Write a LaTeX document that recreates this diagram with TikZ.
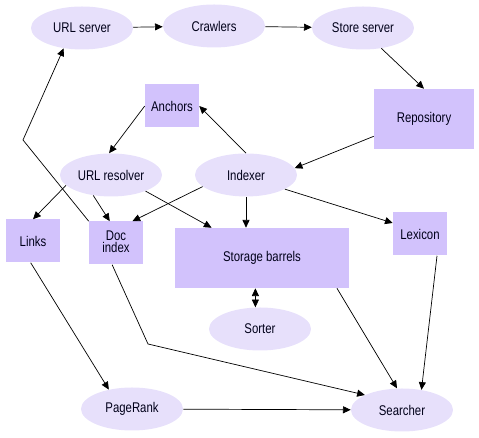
\documentclass[tikz,border=0pt]{standalone}
\usepackage{fontspec}
\newfontfamily\condsf{Liberation Sans}[FakeStretch=0.81]
\usetikzlibrary{shapes.geometric,arrows.meta}
\definecolor{ellfill}{RGB}{231,224,251}
\definecolor{boxfill}{RGB}{210,194,252}

\begin{document}
\begin{tikzpicture}[scale=1, >={Triangle[length=5.5pt,width=5pt]},
  every node/.style={font=\condsf\fontsize{10}{8.6}\selectfont, text=black!90!blue},
  ellnode/.style={ellipse, fill=ellfill, minimum width=2.55cm, minimum height=1.075cm, inner sep=0pt},
  boxnode/.style={rectangle, fill=boxfill, minimum width=1.35cm, minimum height=1.075cm, inner sep=0pt, align=center},
  arr/.style={->, line width=0.5pt}]
  \useasboundingbox (0,0) rectangle (11.975,10.95);

  % Ellipses
  \node[ellnode] (urlserver) at (2.05,10.25) {URL server};
  \node[ellnode] (crawlers) at (5.35,10.3) {Crawlers};
  \node[ellnode] (storeserver) at (9.075,10.25) {Store server};
  \node[ellnode] (urlresolver) at (2.775,6.575) {URL resolver};
  \node[ellnode] (indexer) at (6.15,6.575) {Indexer};
  \node[ellnode] (sorter) at (6.5,2.725) {Sorter};
  \node[ellnode] (pagerank) at (3.3,0.725) {PageRank};
  \node[ellnode] (searcher) at (10.05,0.7) {Searcher};

  % Boxes
  \node[boxnode] (anchors) at (4.3,8.3) {Anchors};
  \node[boxnode, minimum width=2.5cm, minimum height=1.5cm] (repository) at (10.6,7.975) {Repository};
  \node[boxnode] (links) at (0.825,4.925) {Links};
  \node[boxnode] (docindex) at (2.9,4.875) {Doc\\index\vphantom{g}};
  \node[boxnode, minimum width=4.35cm, minimum height=1.5cm] (barrels) at (6.55,4.5) {Storage barrels};
  \node[boxnode] (lexicon) at (10.5,5.1) {Lexicon};

  % Bend points
  \coordinate (bendA) at (0.575,7.45);
  \coordinate (bendB) at (3.7,2.35);

  % Top row
  \draw[arr] (urlserver) -- (crawlers);
  \draw[arr] (crawlers) -- (storeserver);
  \draw[arr] (storeserver.-48) -- (repository.north);
  \draw[arr] (repository.-161) -- (indexer.8);
  \draw[arr] (indexer.north) -- (anchors.east);
  \draw[arr] (anchors.west) -- (urlresolver.95);

  % Middle
  \draw[arr] (urlresolver.-167) -- (links.north);
  \draw[arr] (urlresolver.-131) -- (docindex.106);
  \draw[arr] (urlresolver.-25) -- (barrels.149.5);
  \draw[arr] (indexer.195) -- (docindex.53);
  \draw[arr] (indexer.south) -- (indexer.south |- barrels.north);
  \draw[arr] (indexer.-20) -- (lexicon.158.6);
  \draw[arr] (docindex.north west) -- (bendA) -- (urlserver.-132);
  \draw[<->, line width=0.5pt] (barrels.south -| sorter.102) -- (sorter.102);

  % Bottom
  \draw[arr] (links.-96) -- (pagerank.140);
  \draw[arr] (docindex.-100) -- (bendB) -- (searcher.158);
  \draw[arr] (barrels.-22) -- (searcher.103);
  \draw[arr] (lexicon.-52) -- (searcher.46);
  \draw[arr] (pagerank) -- (searcher);
\end{tikzpicture}
\end{document}
